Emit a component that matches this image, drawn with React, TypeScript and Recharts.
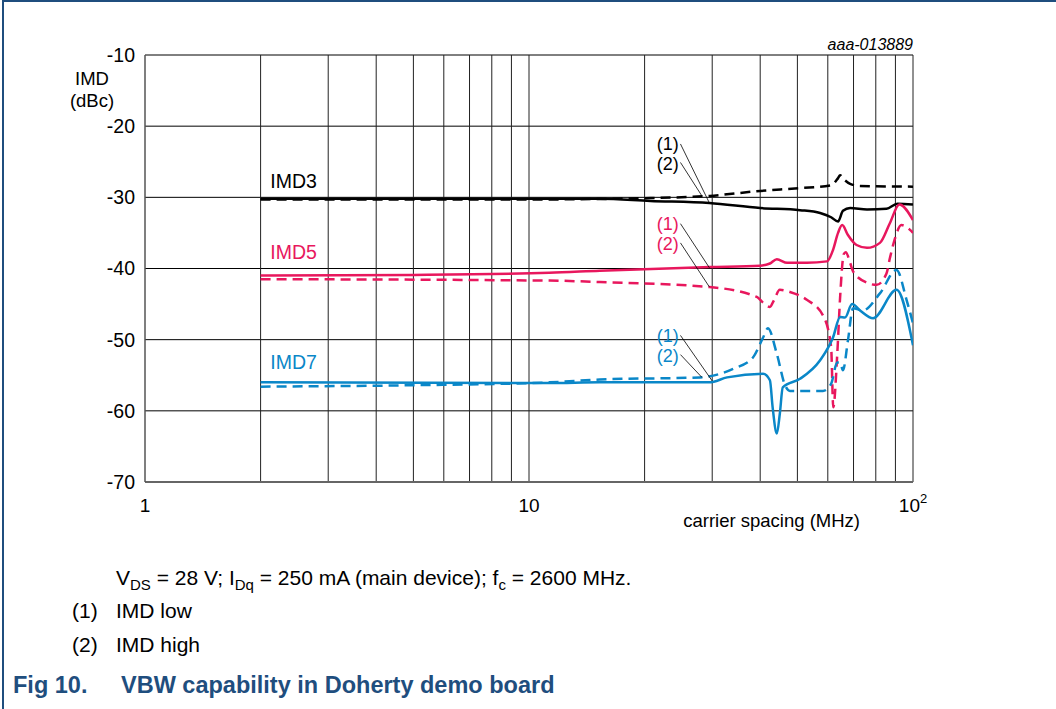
import React from "react"
import {
  CartesianGrid,
  Line,
  LineChart,
  ReferenceDot,
  ReferenceLine,
  XAxis,
  YAxis,
} from "recharts"

// carrier spacing (MHz) vs IMD (dBc)
const imd3Low: [number, number][] = [
  [2, -30.2], [10, -30.2], [15.3, -30.2], [20.7, -30.5], [29.5, -30.8], [40, -31.5],
  [50.8, -31.8], [57.3, -32.2], [61.2, -32.8], [63.8, -33.4], [65.7, -31.9], [68.6, -31.5],
  [75.9, -31.7], [85.3, -31.6], [91.1, -30.9], [100, -31.0],
]
const imd3High: [number, number][] = [
  [2, -30.3], [10, -30.3], [20.7, -30.1], [29.5, -29.8], [40, -29.1], [50.8, -28.7],
  [61.2, -28.3], [63.8, -27.3], [64.6, -26.9], [66.5, -27.6], [68.6, -28.1], [72.8, -28.4],
  [100, -28.5],
]
const imd5Low: [number, number][] = [
  [2, -41.0], [5, -40.9], [11.3, -40.6], [15.3, -40.3], [29.5, -39.8], [40, -39.6],
  [42.4, -39.3], [44.2, -38.7], [47, -39.2], [52.9, -39.2], [59.7, -39.0], [61.9, -37.4],
  [63.8, -35.0], [65.4, -33.9], [67.7, -35.3], [71.3, -36.7], [75.9, -37.1], [82, -36.4],
  [87.1, -33.6], [92.1, -31.0], [100, -33.2],
]
const imd5High: [number, number][] = [
  [2, -41.5], [11.3, -41.7], [15.3, -41.9], [29.5, -42.6], [39.2, -44.0], [40.7, -44.8],
  [42.4, -45.4], [43.4, -44.5], [45, -43.0], [47.8, -43.3], [52.9, -44.4], [58.3, -46.6],
  [61.2, -51.0], [62, -59.5], [63.5, -52.0], [64.6, -44.0], [66, -38.0], [66.8, -37.7],
  [68.6, -39.2], [69.8, -40.4], [75.9, -42.0], [80.4, -42.3], [85.3, -40.7], [87.1, -38.5],
  [89.5, -36.0], [93.3, -33.9], [97.9, -34.5], [100, -35.0],
]
const imd7Low: [number, number][] = [
  [2, -56.0], [11.3, -56.1], [15.3, -56.0], [29.5, -56.0], [32.8, -55.3], [40.7, -54.8],
  [42.4, -55.7], [43.1, -59.5], [44.2, -63.2], [45, -60.4], [45.8, -56.7], [50.8, -55.5],
  [57.3, -52.9], [61.9, -49.7], [64.6, -46.8], [66.5, -46.9], [69.4, -45.0], [72.8, -45.9],
  [78.7, -47.0], [90.6, -43.0], [100, -50.8],
]
const imd7High: [number, number][] = [
  [2, -56.6], [5, -56.4], [11.3, -56.0], [15.3, -55.6], [27.9, -55.3], [34, -54.1],
  [38.3, -52.5], [40.7, -49.7], [41.9, -48.4], [44.2, -52.0], [46.5, -56.5], [47.8, -57.2],
  [58.3, -57.2], [61.2, -56.2], [63.5, -53.2], [64.6, -53.2], [65.7, -54.3], [67.7, -50.1],
  [69.8, -45.6], [74, -45.9], [82, -43.5], [90.6, -40.2], [96.2, -44.4], [100, -47.7],
]

const yTicks = [-70, -60, -50, -40, -30, -20, -10]
const xTicks = [1, 10, 100]
const xGrid = [2, 3, 4, 5, 6, 7, 8, 9, 10, 20, 30, 40, 50, 60, 70, 80, 90, 100]

const BLACK = "#000000"
const RED = "#e8175d"
const BLUE = "#0a87c8"
const NAVY = "#1f4e7e"
const FONT = '"Liberation Sans", Arial, sans-serif'

const toPts = (rows: [number, number][]) => rows.map(([f, v]) => ({ f, v }))

const series = [
  { key: "imd3Low", rows: imd3Low, color: BLACK, dash: undefined },
  { key: "imd3High", rows: imd3High, color: BLACK, dash: "10 6" },
  { key: "imd5Low", rows: imd5Low, color: RED, dash: undefined },
  { key: "imd5High", rows: imd5High, color: RED, dash: "10 6" },
  { key: "imd7Low", rows: imd7Low, color: BLUE, dash: undefined },
  { key: "imd7High", rows: imd7High, color: BLUE, dash: "10 6" },
]

// text labels inside the plot, in data units
const labels = [
  { t: "IMD3", f: 2.12, v: -27.7, c: BLACK, s: 19.5 },
  { t: "IMD5", f: 2.12, v: -37.7, c: RED, s: 19.5 },
  { t: "IMD7", f: 2.12, v: -53.2, c: BLUE, s: 19.5 },
  { t: "(1)", f: 21.5, v: -22.4, c: BLACK, s: 18 },
  { t: "(2)", f: 21.5, v: -25.2, c: BLACK, s: 18 },
  { t: "(1)", f: 21.5, v: -33.7, c: RED, s: 18 },
  { t: "(2)", f: 21.5, v: -36.5, c: RED, s: 18 },
  { t: "(1)", f: 21.5, v: -49.4, c: BLUE, s: 18 },
  { t: "(2)", f: 21.5, v: -52.2, c: BLUE, s: 18 },
]

const leaders = [
  [[24.8, -22.5], [29.5, -30.8]],
  [[24.8, -25.1], [28.2, -29.8]],
  [[24.8, -33.7], [29.5, -39.9]],
  [[24.8, -36.4], [29.5, -42.6]],
  [[24.8, -49.4], [30.0, -55.8]],
  [[24.8, -52.1], [28.2, -55.3]],
]

const XTick = (props: any) => {
  const { x, y, payload } = props
  if (payload.value === 100) {
    return (
      <text x={x} y={y + 30} textAnchor="middle" fontSize={19} fontFamily={FONT} fill="#000">
        10
        <tspan dy={-9} fontSize={13}>2</tspan>
      </text>
    )
  }
  return (
    <text x={x} y={y + 30} textAnchor="middle" fontSize={19} fontFamily={FONT} fill="#000">
      {payload.value}
    </text>
  )
}

const abs = (left: number, top: number, extra: React.CSSProperties = {}): React.CSSProperties => ({
  position: "absolute",
  left,
  top,
  fontFamily: FONT,
  whiteSpace: "nowrap",
  lineHeight: 1,
  ...extra,
})

const sub: React.CSSProperties = { fontSize: 15 }

export default function App() {
  return (
    <div
      style={{
        position: "fixed",
        left: 0,
        top: 0,
        width: 1056,
        height: 709,
        background: "#fff",
        overflow: "hidden",
      }}
    >
      <div style={{ position: "absolute", left: 2, top: 0, width: 2, height: 709, background: NAVY }} />
      <div style={{ position: "absolute", left: 2, top: 0, width: 1054, height: 2, background: NAVY }} />

      <div style={{ position: "absolute", left: 0, top: 0 }}>
        <LineChart width={1056} height={540} margin={{ top: 55, right: 143, left: 0, bottom: 0 }}>
          <CartesianGrid vertical={false} stroke="#000" strokeWidth={1} />
          {xGrid.map((g) => (
            <ReferenceLine key={g} x={g} stroke="#222" strokeWidth={1} />
          ))}
          <XAxis
            type="number"
            dataKey="f"
            scale="log"
            domain={[1, 100]}
            ticks={xTicks}
            allowDataOverflow
            height={58}
            tickLine={false}
            tickSize={0}
            tickMargin={0}
            axisLine={{ stroke: "#666", strokeWidth: 2 }}
            tick={<XTick />}
          />
          <YAxis
            type="number"
            domain={[-70, -10]}
            ticks={yTicks}
            width={145}
            tickLine={false}
            tickSize={0}
            tickMargin={10}
            axisLine={{ stroke: "#555", strokeWidth: 1.5 }}
            tick={{ fill: "#000", fontSize: 19.5, fontFamily: FONT }}
          />
          {series.map((s) => (
            <Line
              key={s.key}
              data={toPts(s.rows)}
              dataKey="v"
              type="monotone"
              stroke={s.color}
              strokeWidth={2.5}
              strokeDasharray={s.dash}
              dot={false}
              activeDot={false}
              isAnimationActive={false}
            />
          ))}
          {leaders.map(([a, b], i) => (
            <ReferenceLine
              key={"l" + i}
              segment={[
                { x: a[0], y: a[1] },
                { x: b[0], y: b[1] },
              ]}
              stroke="#000"
              strokeWidth={0.8}
            />
          ))}
          {labels.map((l, i) => (
            <ReferenceDot
              key={"t" + i}
              x={l.f}
              y={l.v}
              r={0}
              shape={(p: any) => (
                <text x={p.cx} y={p.cy} dy="0.36em" fill={l.c} fontSize={l.s} fontFamily={FONT}>
                  {l.t}
                </text>
              )}
            />
          ))}
        </LineChart>
      </div>

      <div style={abs(52, 70, { fontSize: 18.5, width: 80, textAlign: "center" })}>IMD</div>
      <div style={abs(52, 92, { fontSize: 18.5, width: 80, textAlign: "center" })}>(dBc)</div>
      <div style={abs(0, 37, { fontSize: 16, fontStyle: "italic", width: 913, textAlign: "right" })}>
        aaa-013889
      </div>
      <div style={abs(0, 512, { fontSize: 18.5, width: 860, textAlign: "right" })}>carrier spacing (MHz)</div>

      <div style={abs(116, 567, { fontSize: 21 })}>
        V<sub style={sub}>DS</sub> = 28 V; I<sub style={sub}>Dq</sub> = 250 mA (main device); f
        <sub style={sub}>c</sub> = 2600 MHz.
      </div>
      <div style={abs(72, 600, { fontSize: 21 })}>(1)</div>
      <div style={abs(116, 600, { fontSize: 21 })}>IMD low</div>
      <div style={abs(72, 634, { fontSize: 21 })}>(2)</div>
      <div style={abs(116, 634, { fontSize: 21 })}>IMD high</div>
      <div style={abs(13, 674, { fontSize: 23.5, fontWeight: "bold", color: NAVY })}>Fig 10.</div>
      <div style={abs(121, 674, { fontSize: 23.5, fontWeight: "bold", color: NAVY })}>
        VBW capability in Doherty demo board
      </div>
    </div>
  )
}
